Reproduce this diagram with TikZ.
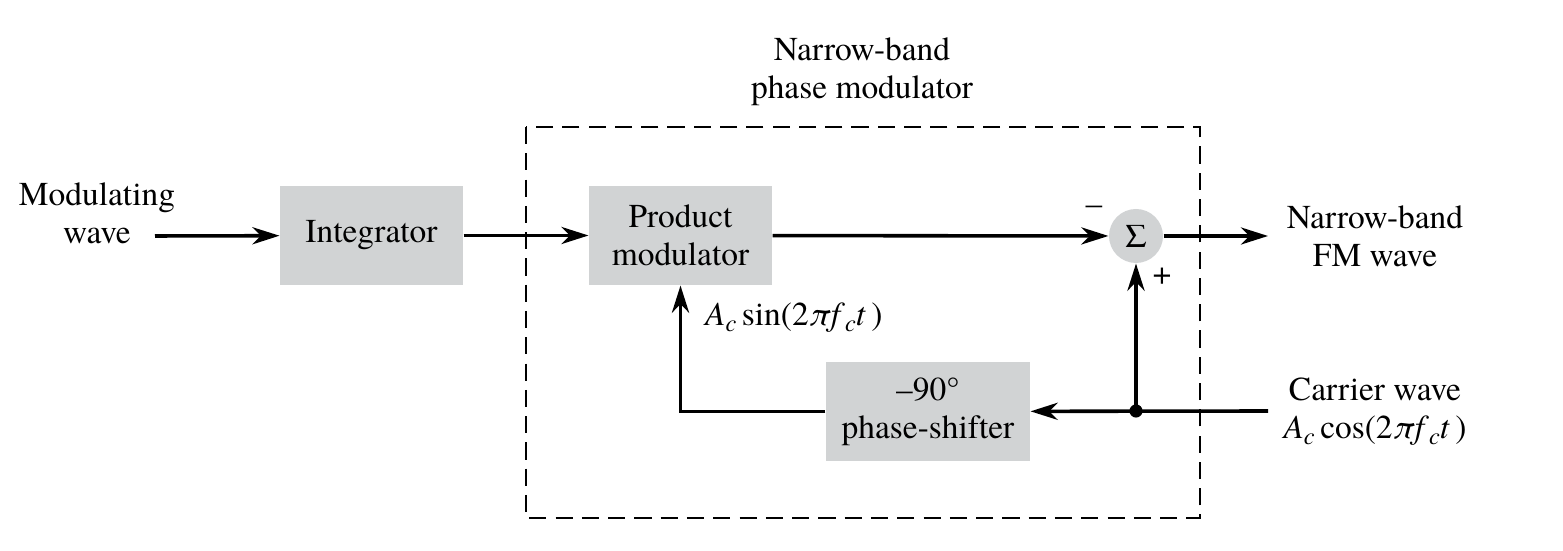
\documentclass[tikz,border=0pt]{standalone}
\usepackage{fontspec}
\setmainfont{texgyretermes}[Extension=.otf, UprightFont=*-regular, ItalicFont=*-italic, BoldFont=*-bold]
\newfontfamily\timesfont{texgyretermes}[Extension=.otf, UprightFont=*-regular, ItalicFont=*-italic, BoldFont=*-bold]
\usepackage{xcolor}
\usetikzlibrary{positioning,calc,arrows.meta}
\definecolor{boxgray}{RGB}{209,211,212}
\newcommand{\iv}[1]{\textit{#1}}
\newcommand{\sub}[1]{\raisebox{-0.35ex}{\fontsize{8.5}{9}\selectfont\textit{#1}}}

\begin{document}
\begin{tikzpicture}[x=0.35pt,y=-0.35pt,
    font=\timesfont\fontsize{11.7}{13.3}\selectfont,
    block/.style={fill=boxgray, minimum height=34.65pt, align=center, inner sep=2pt},
    sumnode/.style={circle, fill=boxgray, minimum size=18.9pt, inner sep=0pt},
    sig/.style={line width=1.25pt, -{Stealth[length=9.5pt,width=6pt,inset=3pt]}},
    label/.style={align=center}]
    \useasboundingbox (0,0) rectangle (1563,551);

    % narrow-band phase modulator
    \draw[dashed, line width=0.75pt, dash pattern=on 6pt off 3.2pt] (526,127) rectangle (1200,518);
    \node[label] (title) at (862,72) {Narrow-band\\phase modulator};

    \node[block, minimum width=64pt] (integ) at (371.5,235.5) {Integrator};
    \node[block, minimum width=64pt] (prod) at (680.5,235.5) {Product\\modulator};
    \node[sumnode] (sum) at (1136,236) {Σ};
    \node[block, minimum width=71.4pt] (shift) at (928,411.5) {–90°\\phase-shifter};

    \node[label] (msg) at (97,213) {Modulating\\wave};
    \node[label] (fm) at (1375,236) {Narrow-band\\FM wave};
    \node[label] (carrier) at (1375,412) {Carrier wave\\\iv{A}\sub{c}\,cos(2\iv{π}\iv{f}\sub{c}\iv{t}\,)};

    \coordinate (in) at (155,236);
    \coordinate (out) at (1268,236);
    \coordinate (car) at (1268,411);
    \coordinate (tap) at (1136,411);

    \draw[sig] (in) -- (integ);
    \draw[sig] (integ) -- (prod);
    \draw[sig] (prod) -- (sum);
    \draw[sig] (sum) -- (out);
    \draw[sig] (car) -- (shift);
    \draw[sig] (tap) -- (sum);
    \draw[sig] (shift.west) -| (prod.south);
    \fill (tap) circle (2.3pt);

    \node[anchor=west] (sinlbl) at (695,318) {\iv{A}\sub{c}\,sin(2\iv{π}\iv{f}\sub{c}\iv{t}\,)};
    \node (minus) at (1094,210) {–};
    \node (plus) at (1162,276) {+};
\end{tikzpicture}
\end{document}
